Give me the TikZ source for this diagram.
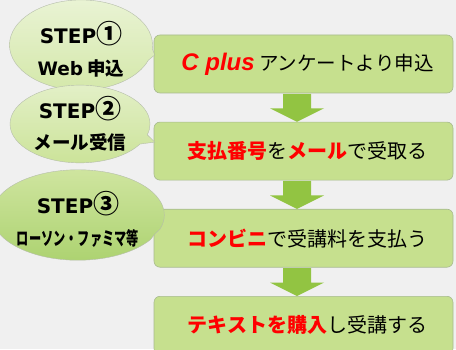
\documentclass[tikz,border=0pt]{standalone}
\usepackage{fontspec}
\usepackage{graphicx}
\setmainfont{Liberation Sans}
\newfontfamily\jpfont{Noto Sans CJK JP}
\newfontfamily\stepfont{DejaVu Sans}
\usetikzlibrary{shapes.callouts,positioning,calc}
\definecolor{bgcol}{HTML}{F0F0F0}
\definecolor{boxfill}{HTML}{C6E08E}
\definecolor{boxline}{HTML}{A7BA8E}
\definecolor{arrowfill}{HTML}{92C442}
\definecolor{bubbleline}{HTML}{B5BDAA}
\newcommand\redtxt[1]{\textcolor{red}{\bfseries #1}}
\newcommand\stepno[1]{{\stepfont\fontsize{20}{20}\selectfont STEP}{\jpfont\fontsize{26}{26}\selectfont #1}}

\begin{document}
\begin{tikzpicture}
%defines
  [x=1pt,y=1pt,
box/.style={rectangle,rounded corners=6pt,draw=boxline,fill=boxfill,semithick,
minimum width=299pt,minimum height=58pt,inner sep=0pt,
font=\jpfont\fontsize{20}{24}\selectfont,execute at begin node=\hspace*{8pt}},
bubble/.style={ellipse callout,draw=bubbleline,thin,align=center,inner sep=0pt,
font=\jpfont\bfseries\fontsize{18.5}{37}\selectfont},
flow/.style={fill=arrowfill}]
\useasboundingbox[fill=bgcol] (0,0) rectangle (456,349);
% steps on the right
\node[box] (apply) at (303.5,285)
{{\rmfamily\bfseries\itshape\color{red}\fontsize{24}{24}\selectfont C plus} {\fontsize{19.5}{24}\selectfont アンケートより申込}};
\node[box] (mail) [below=28.5pt of apply] {\redtxt{支払番号}を\redtxt{メール}で受取る};
\node[box] (pay) [below=28.5pt of mail] {\redtxt{コンビニ}で受講料を支払う};
\node[box] (study) [below=28.5pt of pay] {\redtxt{テキストを購入}し受講する};
% arrows between the steps
\foreach \a/\b in {apply/mail,mail/pay,pay/study}
  \fill[flow] ($(\a.south)+(-20.5,-0.5)$) -- ++(28,0) -- ++(0,-14.5) -- ++(13,0)
    -- ($(\b.north)+(-6.5,0)$) -- ($(\a.south)+(-33.5,-15)$)
    -- ($(\a.south)+(-20.5,-15)$) -- cycle;
% callouts on the left
\node[bubble,top color=white!45!boxfill!70!white,bottom color=boxfill!75!white,
minimum width=143pt,minimum height=70pt,
callout absolute pointer={($(apply.west)+(1,9)$)}] (step1) at (81,304)
{\rule{0pt}{30pt}\stepno{①}\\[-5pt] {\stepfont Web} 申込};
\node[bubble,top color=boxfill!50!white,bottom color=boxfill!90!white,
minimum width=140pt,minimum height=67pt,
callout absolute pointer={($(mail.west)+(1,9)$)}] (step2) at (80,225)
{\stepno{②}\\[-6pt] メール受信};
\node[bubble,top color=boxfill!85!white,bottom color=arrowfill!75!white,
minimum width=141pt,minimum height=74pt,
callout absolute pointer={($(pay.west)+(1,4)$)}] (step3) at (78,134)
{\rule{0pt}{30pt}\stepno{③}\\[-5pt] \scalebox{0.66}[1]{ローソン・ファミマ等}};
\end{tikzpicture}
\end{document}
